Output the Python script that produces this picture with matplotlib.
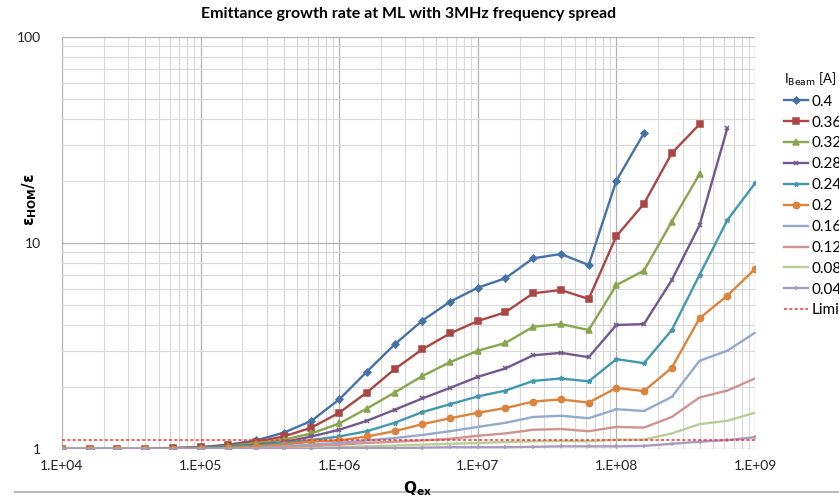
import math
import matplotlib.pyplot as plt
from matplotlib.lines import Line2D
from matplotlib.ticker import LogLocator, FixedLocator, FuncFormatter, NullFormatter

# -------------------------
# Data
# -------------------------
qex = [1.00e4, 1.58e4, 2.51e4, 3.98e4, 6.31e4,
       1.00e5, 1.58e5, 2.51e5, 3.98e5, 6.31e5,
       1.00e6, 1.58e6, 2.51e6, 3.98e6, 6.31e6,
       1.00e7, 1.58e7, 2.51e7, 3.98e7, 6.31e7,
       1.00e8, 1.58e8, 2.51e8, 3.98e8, 6.31e8,
       1.00e9]

beam_labels = ["0.4", "0.36", "0.32", "0.28", "0.24", "0.2", "0.16", "0.12", "0.08", "0.04"]

ib_040 = [1.0, 1.0, 1.0, 1.0, 1.01, 1.02, 1.05, 1.10, 1.20, 1.37, 1.74, 2.37, 3.22, 4.20, 5.19,
          6.07, 6.74, 8.43, 8.84, 7.82, 20.1, 34.1]
ib_036 = [1.0, 1.0, 1.0, 1.0, 1.01, 1.02, 1.04, 1.085, 1.15, 1.27, 1.50, 1.88, 2.44, 3.05, 3.64,
          4.18, 4.61, 5.70, 5.91, 5.35, 10.8, 15.5, 27.3, 37.7]
ib_032 = [1.0, 1.0, 1.0, 1.0, 1.0, 1.015, 1.03, 1.07, 1.11, 1.19, 1.33, 1.57, 1.88, 2.26, 2.64,
          3.0, 3.27, 3.92, 4.04, 3.78, 6.25, 7.34, 12.7, 21.6]
ib_028 = [1.0, 1.0, 1.0, 1.0, 1.0, 1.01, 1.02, 1.05, 1.08, 1.15, 1.24, 1.37, 1.55, 1.76, 1.98,
          2.24, 2.46, 2.85, 2.93, 2.79, 4.0, 4.04, 6.61, 12.2, 36.0]
ib_024 = [1.0, 1.0, 1.0, 1.0, 1.0, 1.01, 1.02, 1.04, 1.07, 1.106, 1.15, 1.22, 1.34, 1.51, 1.65,
          1.80, 1.92, 2.14, 2.20, 2.13, 2.73, 2.61, 3.78, 7.0, 12.9, 19.5]
ib_020 = [1.0, 1.0, 1.0, 1.0, 1.0, 1.0, 1.01, 1.03, 1.05, 1.085, 1.10, 1.15, 1.22, 1.32, 1.41,
          1.50, 1.58, 1.70, 1.74, 1.68, 1.98, 1.91, 2.48, 4.31, 5.55, 7.48]
ib_016 = [1.0, 1.0, 1.0, 1.0, 1.0, 1.0, 1.0, 1.01, 1.03, 1.05, 1.07, 1.10, 1.13, 1.17, 1.22,
          1.28, 1.34, 1.43, 1.45, 1.41, 1.56, 1.53, 1.79, 2.68, 3.0, 3.67]
ib_012 = [1.0, 1.0, 1.0, 1.0, 1.0, 1.0, 1.0, 1.0, 1.02, 1.03, 1.05, 1.07, 1.085, 1.10, 1.12,
          1.16, 1.19, 1.24, 1.25, 1.22, 1.28, 1.27, 1.43, 1.78, 1.92, 2.2]
ib_008 = [1.0, 1.0, 1.0, 1.0, 1.0, 1.0, 1.0, 1.0, 1.0, 1.01, 1.02, 1.03, 1.04, 1.05, 1.06,
          1.07, 1.08, 1.09, 1.095, 1.09, 1.11, 1.11, 1.19, 1.32, 1.37, 1.50]
ib_004 = [1.0, 1.0, 1.0, 1.0, 1.0, 1.0, 1.0, 1.0, 1.0, 1.0, 1.01, 1.01, 1.01, 1.015, 1.02,
          1.02, 1.02, 1.025, 1.03, 1.03, 1.03, 1.035, 1.06, 1.085, 1.105, 1.14]

limit_value = 1.1

series = [ib_040, ib_036, ib_032, ib_028, ib_024, ib_020, ib_016, ib_012, ib_008, ib_004]
colors = ["#4572A7", "#AA4643", "#89A54E", "#71588F", "#4198AF",
          "#DB843D", "#93A9CF", "#D19392", "#B9CD96", "#A99BBD"]
markers = ["D", "s", "^", "x", "*", "o", "_", "", "", "+"]
msizes = [3.5, 4.5, 4.5, 3.5, 3.5, 4.5, 3, 0, 0, 3.5]

plt.rcParams['font.family'] = ['Lato', 'DejaVu Sans']

# -------------------------
# Plotting
# -------------------------
fig = plt.figure(figsize=(8.39, 4.96), dpi=100)
ax = fig.add_axes([62 / 839, 47 / 496, 693 / 839, 412 / 496])

handles = []
for vals, lab, c, m, ms in zip(series, beam_labels, colors, markers, msizes):
    h, = ax.plot(qex[:len(vals)], vals, color=c, lw=1.7, marker=m, ms=ms,
                 mew=1.1, label=lab, zorder=3)
    handles.append(h)

lim, = ax.plot([qex[0], qex[-1]], [limit_value, limit_value], color="#FF3030",
               lw=1.1, ls=(0, (2, 1.5)), label="Limit", zorder=4)
handles.append(lim)

ax.set_xscale('log')
ax.set_yscale('log')
ax.set_xlim(1e4, 1e9)
ax.set_ylim(1, 100)

ax.xaxis.set_major_locator(FixedLocator([1e4, 1e5, 1e6, 1e7, 1e8, 1e9]))
ax.xaxis.set_major_formatter(FuncFormatter(lambda v, p: "1.E+%02d" % round(math.log10(v))))
ax.xaxis.set_minor_locator(LogLocator(base=10, subs=range(2, 10), numticks=20))
ax.xaxis.set_minor_formatter(NullFormatter())
ax.yaxis.set_major_locator(FixedLocator([1, 10, 100]))
ax.yaxis.set_major_formatter(FuncFormatter(lambda v, p: "%d" % v))
ax.yaxis.set_minor_locator(LogLocator(base=10, subs=range(2, 10), numticks=20))
ax.yaxis.set_minor_formatter(NullFormatter())

ax.grid(which='major', color="#B0B0B0", lw=0.9)
ax.grid(which='minor', color="#D9D9D9", lw=0.8)
ax.set_axisbelow(True)
for s in ax.spines.values():
    s.set_visible(False)
ax.tick_params(which='both', length=0, labelsize=10, colors="#222222")
ax.tick_params(axis='x', pad=8)
ax.tick_params(axis='y', pad=15)

ax.set_title("Emittance growth rate at ML with 3MHz frequency spread",
             fontsize=11.5, fontweight='bold', pad=14)
fig.text(30 / 839, 1 - 200 / 496, r"$\mathbf{\varepsilon_{HOM}/\varepsilon}$", fontsize=11,
         rotation=90, ha='center', va='center')
fig.text(418 / 839, -0.004, r"$\mathbf{Q_{ex}}$", fontsize=11, ha='center', va='bottom')

leg = fig.legend(handles=handles, loc='upper left', bbox_to_anchor=(770 / 839, 1 - 57 / 496),
                 frameon=False, fontsize=11, title=r"I$_{\mathrm{Beam}}$ [A]",
                 title_fontsize=9.5, handlelength=1.6, handletextpad=0.2,
                 labelspacing=0.45, alignment='left')

fig.add_artist(Line2D([15 / 839, 1], [4 / 496, 4 / 496], color="#BBBBBB", lw=1.5))

fig.savefig("out.png", dpi=100)
